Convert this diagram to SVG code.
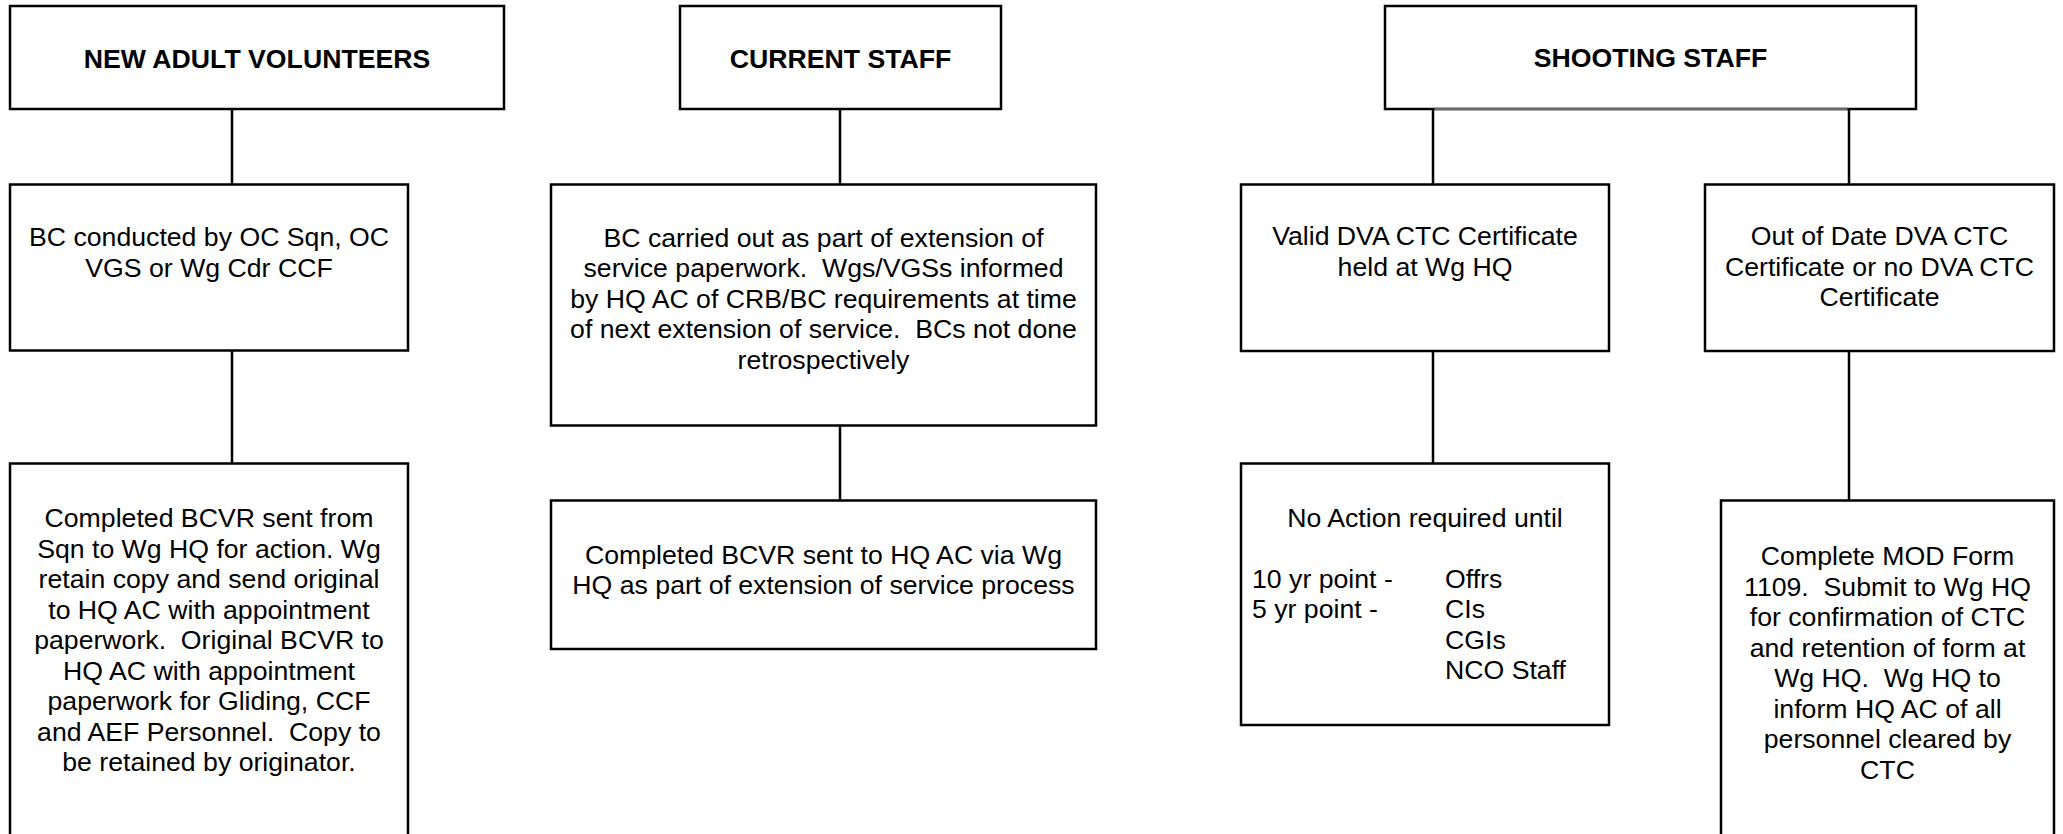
<svg xmlns="http://www.w3.org/2000/svg" width="2063" height="834" viewBox="0 0 2063 834">
<style>
rect.box{fill:#fff;stroke:#000;stroke-width:2.5}
.conn line{stroke:#000;stroke-width:2.5}
text{font-family:"Liberation Sans",Arial,sans-serif;font-size:26.67px;fill:#000;white-space:pre}
text.t{font-weight:bold}
text.c{text-anchor:middle}
</style>
<rect width="2063" height="834" fill="#fff"/>
<g id="connectors" class="conn">
<line x1="232" y1="109" x2="232" y2="184.5"/>
<line x1="232" y1="350.5" x2="232" y2="463.5"/>
<line x1="840" y1="109" x2="840" y2="184.5"/>
<line x1="840" y1="425.5" x2="840" y2="500.5"/>
<line x1="1433" y1="109" x2="1433" y2="184.5"/>
<line x1="1433" y1="351" x2="1433" y2="463.5"/>
<line x1="1849" y1="109" x2="1849" y2="184.5"/>
<line x1="1849" y1="351" x2="1849" y2="500.5"/>
</g>
<g id="new-adult-volunteers">
<rect class="box" x="10" y="6" width="494" height="103"/>
<text class="t c" x="257" y="68">NEW ADULT VOLUNTEERS</text>
</g>
<g id="bc-conducted">
<rect class="box" x="10" y="184.5" width="398" height="166"/>
<text class="c" x="209" y="245.5">BC conducted by OC Sqn, OC</text>
<text class="c" x="209" y="276.5">VGS or Wg Cdr CCF</text>
</g>
<g id="completed-bcvr-sqn">
<rect class="box" x="10" y="463.5" width="398" height="420"/>
<text class="c" x="209" y="527">Completed BCVR sent from</text>
<text class="c" x="209" y="557.5">Sqn to Wg HQ for action. Wg</text>
<text class="c" x="209" y="588">retain copy and send original</text>
<text class="c" x="209" y="618.5">to HQ AC with appointment</text>
<text class="c" x="209" y="649">paperwork.  Original BCVR to</text>
<text class="c" x="209" y="679.5">HQ AC with appointment</text>
<text class="c" x="209" y="710">paperwork for Gliding, CCF</text>
<text class="c" x="209" y="740.5">and AEF Personnel.  Copy to</text>
<text class="c" x="209" y="771">be retained by originator.</text>
</g>
<g id="current-staff">
<rect class="box" x="680" y="6" width="321" height="103"/>
<text class="t c" x="840.5" y="68">CURRENT STAFF</text>
</g>
<g id="bc-carried-out">
<rect class="box" x="551" y="184.5" width="545" height="241"/>
<text class="c" x="823.5" y="246.5">BC carried out as part of extension of</text>
<text class="c" x="823.5" y="277">service paperwork.  Wgs/VGSs informed</text>
<text class="c" x="823.5" y="307.5">by HQ AC of CRB/BC requirements at time</text>
<text class="c" x="823.5" y="338">of next extension of service.  BCs not done</text>
<text class="c" x="823.5" y="368.5">retrospectively</text>
</g>
<g id="completed-bcvr-hq">
<rect class="box" x="551" y="500.5" width="545" height="148.5"/>
<text class="c" x="823.5" y="563.5">Completed BCVR sent to HQ AC via Wg</text>
<text class="c" x="823.5" y="594">HQ as part of extension of service process</text>
</g>
<g id="shooting-staff">
<rect class="box" x="1385" y="6" width="531" height="103"/>
<line x1="1434.5" y1="109" x2="1847.5" y2="109" stroke="#6a6a6a" stroke-width="2.5"/>
<text class="t c" x="1650.5" y="67">SHOOTING STAFF</text>
</g>
<g id="valid-dva-ctc">
<rect class="box" x="1241" y="184.5" width="368" height="166.5"/>
<text class="c" x="1425" y="245">Valid DVA CTC Certificate</text>
<text class="c" x="1425" y="275.5">held at Wg HQ</text>
</g>
<g id="out-of-date-dva-ctc">
<rect class="box" x="1705" y="184.5" width="349" height="166.5"/>
<text class="c" x="1879.5" y="245">Out of Date DVA CTC</text>
<text class="c" x="1879.5" y="275.5">Certificate or no DVA CTC</text>
<text class="c" x="1879.5" y="306">Certificate</text>
</g>
<g id="no-action-required">
<rect class="box" x="1241" y="463.5" width="368" height="261.5"/>
<text class="c" x="1425" y="527">No Action required until</text>
<text x="1252" y="587.5">10 yr point -</text>
<text x="1445" y="587.5">Offrs</text>
<text x="1252" y="618">5 yr point -</text>
<text x="1445" y="618">CIs</text>
<text x="1445" y="648.5">CGIs</text>
<text x="1445" y="679">NCO Staff</text>
</g>
<g id="complete-mod-form">
<rect class="box" x="1721" y="500.5" width="333" height="420"/>
<text class="c" x="1887.5" y="565">Complete MOD Form</text>
<text class="c" x="1887.5" y="595.5">1109.  Submit to Wg HQ</text>
<text class="c" x="1887.5" y="626">for confirmation of CTC</text>
<text class="c" x="1887.5" y="656.5">and retention of form at</text>
<text class="c" x="1887.5" y="687">Wg HQ.  Wg HQ to</text>
<text class="c" x="1887.5" y="717.5">inform HQ AC of all</text>
<text class="c" x="1887.5" y="748">personnel cleared by</text>
<text class="c" x="1887.5" y="778.5">CTC</text>
</g>
</svg>
